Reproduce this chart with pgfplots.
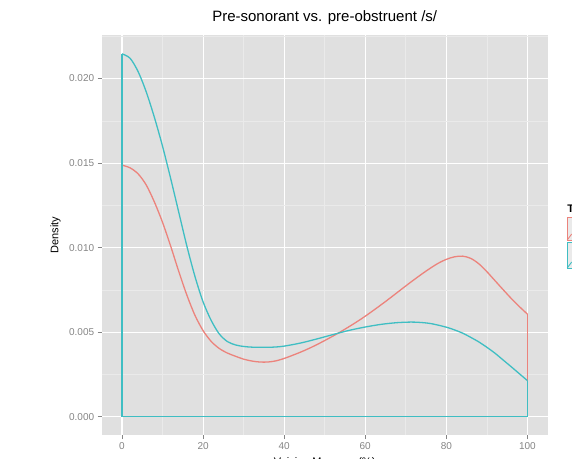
\documentclass[border=0pt]{standalone}
\usepackage{fontspec}
\setmainfont{Liberation Sans}
\usepackage{pgfplots}
\usepackage{pgfplotstable}
\pgfplotsset{compat=1.18}
\definecolor{panel}{HTML}{E0E0E0}
\definecolor{minorg}{HTML}{EAEAEA}
\definecolor{keybg}{HTML}{EAEAEA}
\definecolor{cred}{HTML}{EC837C}
\definecolor{ccyan}{HTML}{3FBEC3}
\definecolor{tickg}{HTML}{858585}

\pgfplotstableread{
x y
0 0.01488
2 0.01472
4 0.01436
6 0.0137
8 0.0127
10 0.0115
12 0.0101
14 0.0086
16 0.0072
18 0.0060
20 0.0051
22 0.00446
24 0.00404
26 0.00377
28 0.00358
30 0.00341
32 0.00330
34 0.00324
36 0.00324
38 0.00331
40 0.00345
42 0.00363
44 0.00382
46 0.00403
48 0.00426
50 0.00451
52 0.00477
54 0.00504
56 0.00533
58 0.00563
60 0.00595
62 0.00629
64 0.00664
66 0.00700
68 0.00737
70 0.00774
72 0.00810
74 0.00845
76 0.00878
78 0.00908
80 0.00931
82 0.00946
84 0.00950
86 0.00937
88 0.00905
90 0.00858
92 0.00805
94 0.00752
96 0.00700
98 0.00652
100 0.00607
}\redcurve

\pgfplotstableread{
x y
0 0.02146
2 0.0212
4 0.0204
6 0.0192
8 0.0177
10 0.0160
12 0.0141
14 0.0121
16 0.0101
18 0.0083
20 0.0068
22 0.0057
24 0.0049
26 0.00445
28 0.00425
30 0.00416
32 0.00412
34 0.00411
36 0.00411
38 0.00413
40 0.00418
44 0.00436
48 0.00460
52 0.00486
56 0.00511
60 0.00531
64 0.00547
68 0.00557
72 0.00560
76 0.00552
80 0.00530
82 0.00514
84 0.00495
86 0.00470
88 0.00443
90 0.00411
92 0.00376
94 0.00336
96 0.00296
98 0.00255
100 0.00214
}\cyancurve

\begin{document}
\begin{tikzpicture}
\path[use as bounding box, clip] (-101.7pt,-23pt) rectangle (470.3pt,435pt);
\begin{axis}[
  at={(0pt,0pt)}, anchor=south west,
  scale only axis, width=446pt, height=400pt,
  xmin=-5, xmax=105, ymin=-0.001075, ymax=0.022575,
  axis background/.style={fill=panel},
  axis line style={draw=none},
  xtick={0,20,...,100}, minor xtick={10,30,...,90},
  ytick={0,0.005,0.01,0.015,0.02},
  minor ytick={0.0025,0.0075,0.0125,0.0175,0.0225},
  grid=both,
  major grid style={white, line width=1.1pt},
  minor grid style={minorg, line width=0.6pt},
  xtick pos=bottom, ytick pos=left,
  tick align=outside, major tick length=4pt, minor tick length=0pt,
  tick style={tickg, line width=0.8pt},
  scaled y ticks=false,
  yticklabel style={/pgf/number format/.cd, fixed, fixed zerofill, precision=3},
  /pgf/number format/assume math mode=true,
  ticklabel style={font=\fontsize{10}{12}\selectfont, text=tickg},
  xlabel={Voicing Measure (\%)}, ylabel={Density},
  xlabel style={font=\fontsize{11}{13}\selectfont, at={(axis description cs:0.5,-0.0555)}, anchor=north, inner sep=0pt},
  ylabel style={font=\fontsize{11}{13}\selectfont, at={(axis description cs:-0.1036,0.5)}, anchor=center, inner sep=0pt},
  title={Pre-sonorant vs. pre-obstruent /s/},
  title style={font=\fontsize{15}{18}\selectfont, at={(axis description cs:0.5,1)}, anchor=base, yshift=7pt, inner sep=0pt},
]
\addplot[cred, line width=1.3pt, smooth, no markers] table[x=x,y=y] {\redcurve};
\addplot[cred, line width=1.3pt, sharp plot, no markers] coordinates {(0,0.01488) (0,0) (100,0) (100,0.00607)};
\addplot[ccyan, line width=1.3pt, smooth, no markers] table[x=x,y=y] {\cyancurve};
\addplot[ccyan, line width=1.3pt, sharp plot, no markers] coordinates {(0,0.02146) (0,0) (100,0) (100,0.00214)};
\end{axis}
\node[anchor=west, inner sep=0pt, font=\bfseries\fontsize{11}{13}\selectfont] at (465.5pt,225.5pt) {Type};
\draw[cred, fill=keybg, line width=0.9pt] (465.5pt,195pt) rectangle (482pt,218pt);
\draw[cred, line width=0.9pt] (465.5pt,195pt) -- (470pt,201pt);
\draw[ccyan, fill=keybg, line width=0.9pt] (465.5pt,167pt) rectangle (482pt,193pt);
\draw[ccyan, line width=0.9pt] (465.5pt,167pt) -- (470pt,173pt);
\end{tikzpicture}
\end{document}
